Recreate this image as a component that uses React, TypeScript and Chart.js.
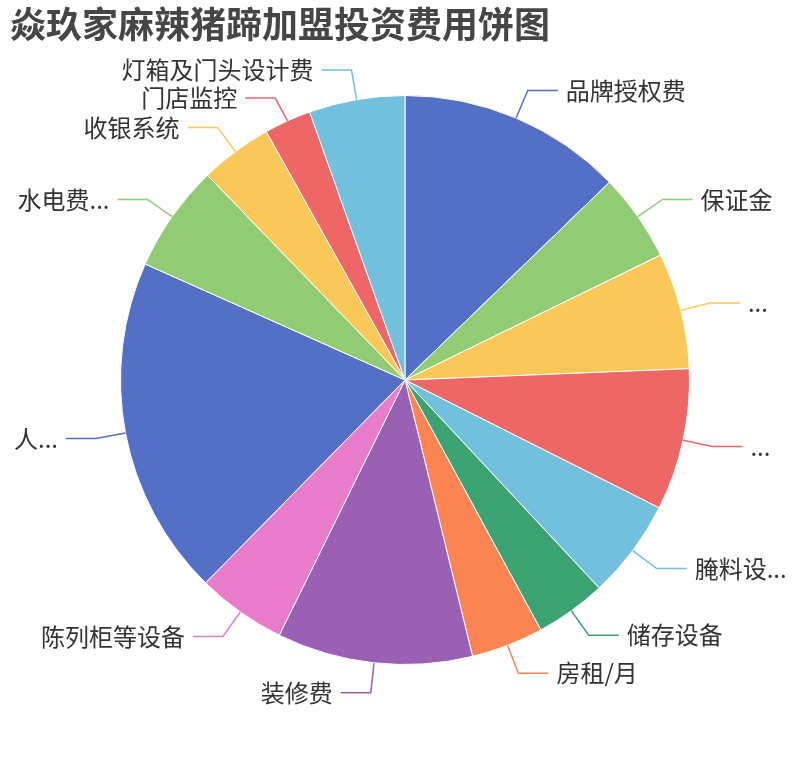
import React, { useEffect, useRef } from "react";
import { Chart, registerables } from "chart.js";

Chart.register(...registerables);

const TITLE = "焱玖家麻辣猪蹄加盟投资费用饼图";

const categories = [
  "品牌授权费",
  "保证金",
  "...",
  "...",
  "腌料设...",
  "储存设备",
  "房租/月",
  "装修费",
  "陈列柜等设备",
  "人...",
  "水电费...",
  "收银系统",
  "门店监控",
  "灯箱及门头设计费",
];

const values = [23000, 9000, 11900, 14500, 10150, 7250, 7400, 20000, 9150, 34800, 11000, 7400, 4800, 9800];

const colors = [
  "#5470c6",
  "#91cc75",
  "#fac858",
  "#ee6666",
  "#73c0de",
  "#3ba272",
  "#fc8452",
  "#9a60b4",
  "#ea7ccc",
  "#5470c6",
  "#91cc75",
  "#fac858",
  "#ee6666",
  "#73c0de",
];

const FONT = '"Noto Sans CJK SC", "Noto Sans", sans-serif';

const labelPlugin = {
  id: "outerLabels",
  afterDatasetsDraw(chart: any) {
    const ctx = chart.ctx;
    const meta = chart.getDatasetMeta(0);
    const len1 = 30;
    const len2 = 30;
    const gap = 8;
    const minGap = 28;
    const items = meta.data.map((arc: any, i: number) => {
      const p = arc.getProps(["x", "y", "startAngle", "endAngle", "outerRadius"], true);
      const mid = (p.startAngle + p.endAngle) / 2;
      const c = Math.cos(mid);
      const s = Math.sin(mid);
      return {
        i,
        right: c >= 0,
        x0: p.x + p.outerRadius * c,
        y0: p.y + p.outerRadius * s,
        x1: p.x + (p.outerRadius + len1) * c,
        y1: p.y + (p.outerRadius + len1) * s,
      };
    });
    // simple overlap avoidance on y, per side
    [true, false].forEach((side) => {
      const list = items.filter((it: any) => it.right === side).sort((a: any, b: any) => a.y1 - b.y1);
      for (let k = 1; k < list.length; k++) {
        if (list[k].y1 - list[k - 1].y1 < minGap) list[k].y1 = list[k - 1].y1 + minGap;
      }
    });
    ctx.save();
    items.forEach((it: any) => {
      const x2 = it.x1 + (it.right ? len2 : -len2);
      ctx.beginPath();
      ctx.moveTo(it.x0, it.y0);
      ctx.lineTo(it.x1, it.y1);
      ctx.lineTo(x2, it.y1);
      ctx.strokeStyle = colors[it.i];
      ctx.lineWidth = 1.5;
      ctx.stroke();
      ctx.fillStyle = "#333";
      ctx.font = `24px ${FONT}`;
      ctx.textBaseline = "middle";
      ctx.textAlign = it.right ? "left" : "right";
      ctx.fillText(categories[it.i], x2 + (it.right ? gap : -gap), it.y1);
    });
    ctx.fillStyle = "#464646";
    ctx.font = `bold 36px ${FONT}`;
    ctx.textAlign = "left";
    ctx.textBaseline = "middle";
    ctx.fillText(TITLE, 10, 24);
    ctx.restore();
  },
};

export default function App() {
  const ref = useRef<HTMLCanvasElement | null>(null);
  useEffect(() => {
    document.body.style.margin = "0";
    const chart = new Chart(ref.current as HTMLCanvasElement, {
      type: "pie",
      data: {
        labels: categories,
        datasets: [
          {
            data: values,
            backgroundColor: colors,
            borderColor: "#ffffff",
            borderWidth: 1,
          },
        ],
      },
      options: {
        responsive: false,
        animation: false,
        layout: { padding: { left: 120, right: 120, top: 95, bottom: 95 } },
        plugins: {
          legend: { display: false },
          tooltip: { enabled: false },
          title: { display: false },
        },
      },
      plugins: [labelPlugin],
    });
    return () => chart.destroy();
  }, []);
  return (
    <div style={{ width: 810, height: 760 }}>
      <canvas ref={ref} width={810} height={760} style={{ width: 810, height: 760 }} />
    </div>
  );
}
